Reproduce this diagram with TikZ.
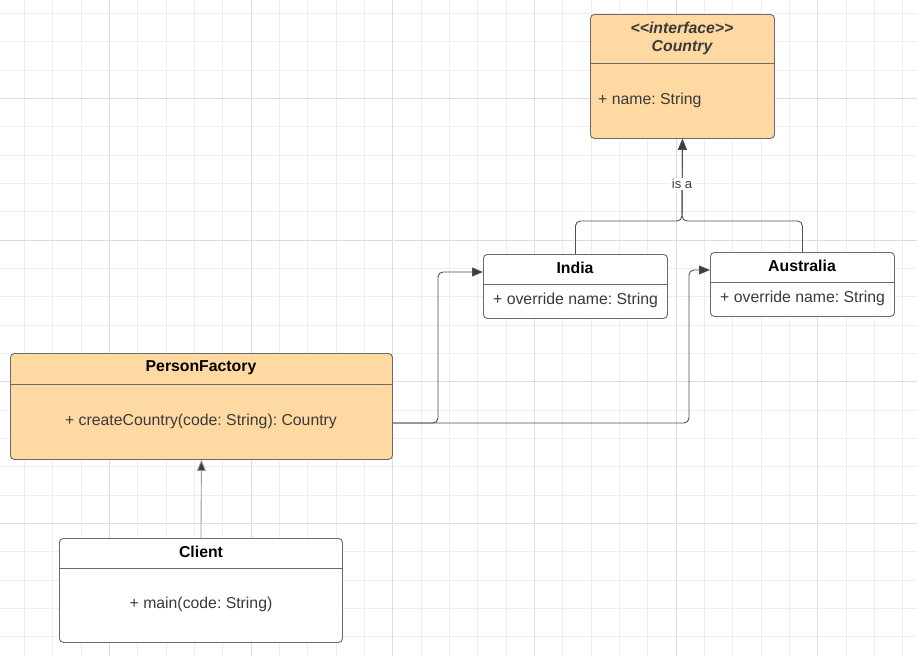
\documentclass[tikz,border=0pt]{standalone}
\usepackage{fontspec}
\newfontfamily\uml{Liberation Sans}
\usetikzlibrary{arrows.meta}
\frenchspacing
\definecolor{orangefill}{HTML}{FFD9A1}
\definecolor{boxline}{HTML}{6A6A6A}
\definecolor{conngray}{HTML}{4E4E58}
\definecolor{tipgray}{HTML}{3C3C48}
\definecolor{membergray}{HTML}{3A3A3A}
\definecolor{gridminor}{HTML}{EEEEEE}
\definecolor{gridmajor}{HTML}{DDDDDD}
\begin{document}
\begin{tikzpicture}[x=1pt,y=-1pt,
  cls/.style={draw=boxline, rounded corners=4pt, line width=0.9pt, inner sep=0pt, anchor=north west},
  divider/.style={draw=boxline, line width=0.9pt},
  title/.style={font=\uml\fontsize{15.8}{18}\selectfont\bfseries, text=black, inner sep=0pt},
  ititle/.style={font=\uml\fontsize{15.8}{18}\selectfont\bfseries\itshape, text=membergray, inner sep=0pt},
  member/.style={font=\uml\fontsize{15.8}{18}\selectfont, text=membergray, inner sep=0pt},
  conn/.style={draw=conngray, line width=0.9pt, rounded corners=5pt, -{Triangle[length=11pt,width=9pt,fill=tipgray]}},
  lbl/.style={font=\uml\fontsize{13}{15}\selectfont, text=membergray, fill=white, inner sep=1.5pt}
]
\useasboundingbox (0,0) rectangle (917,656);
\fill[white] (0,0) rectangle (917,656);
% grid
\foreach \i in {-3,...,29} {
  \pgfmathsetmacro\xx{109.5+28.3333*\i}
  \draw[gridminor, line width=1pt] (\xx,0) -- (\xx,656);
}
\foreach \j in {-3,...,20} {
  \pgfmathsetmacro\yy{98.5+28.3333*\j}
  \draw[gridminor, line width=1pt] (0,\yy) -- (917,\yy);
}
\foreach \i in {-1,...,6} {
  \pgfmathsetmacro\xx{109.5+141.6667*\i}
  \draw[gridmajor, line width=1pt] (\xx,0) -- (\xx,656);
}
\foreach \j in {-1,...,4} {
  \pgfmathsetmacro\yy{98.5+141.6667*\j}
  \draw[gridmajor, line width=1pt] (0,\yy) -- (917,\yy);
}

% Country
\node[cls, fill=orangefill, minimum width=184pt, minimum height=124pt] (country) at (590,14) {};
\draw[divider] (country.west |- 0,63) -- (country.east |- 0,63);
\node[ititle] (ct1) at (682,28) {<<interface>>};
\node[ititle] (ct2) at (682,47.5) {Country};
\node[member, anchor=west] (cm) at (598,100) {+ name: String};

% India
\node[cls, fill=white, minimum width=184pt, minimum height=64pt] (india) at (483,254) {};
\draw[divider] (india.west |- 0,284) -- (india.east |- 0,284);
\node[title] (it) at (575,268) {India};
\node[member, anchor=west] (im) at (493,300) {+ override name: String};

% Australia
\node[cls, fill=white, minimum width=184pt, minimum height=64pt] (aus) at (710,252) {};
\draw[divider] (aus.west |- 0,282) -- (aus.east |- 0,282);
\node[title] (at) at (802,266) {Australia};
\node[member, anchor=west] (am) at (720,298) {+ override name: String};

% PersonFactory
\node[cls, fill=orangefill, minimum width=382pt, minimum height=106pt] (pf) at (10,353) {};
\draw[divider] (pf.west |- 0,384) -- (pf.east |- 0,384);
\node[title] (pft) at (201,368) {PersonFactory};
\node[member] (pfm) at (201,421) {+ createCountry(code: String): Country};

% Client
\node[cls, fill=white, minimum width=283pt, minimum height=104pt] (client) at (59,538) {};
\draw[divider] (client.west |- 0,568) -- (client.east |- 0,568);
\node[title] (clt) at (201,552) {Client};
\node[member] (clm) at (201,604) {+ main(code: String)};

% connectors
\coordinate (join) at (682,221);
\draw[conn] (india.north) |- (join) -- (country.south);
\draw[conn] (aus.north) |- (join) -- (country.south);
\node[lbl] (isa) at (682,184) {is a};

\draw[conn] (pf.east |- 0,423) -- (438,423) -- (438,272) -- (india.west |- 0,272);
\draw[conn] (pf.east |- 0,423) -- (689,423) -- (689,270) -- (aus.west |- 0,270);
\draw[conn, draw=gray!80] (client.north) -- (pf.south);
\end{tikzpicture}
\end{document}
